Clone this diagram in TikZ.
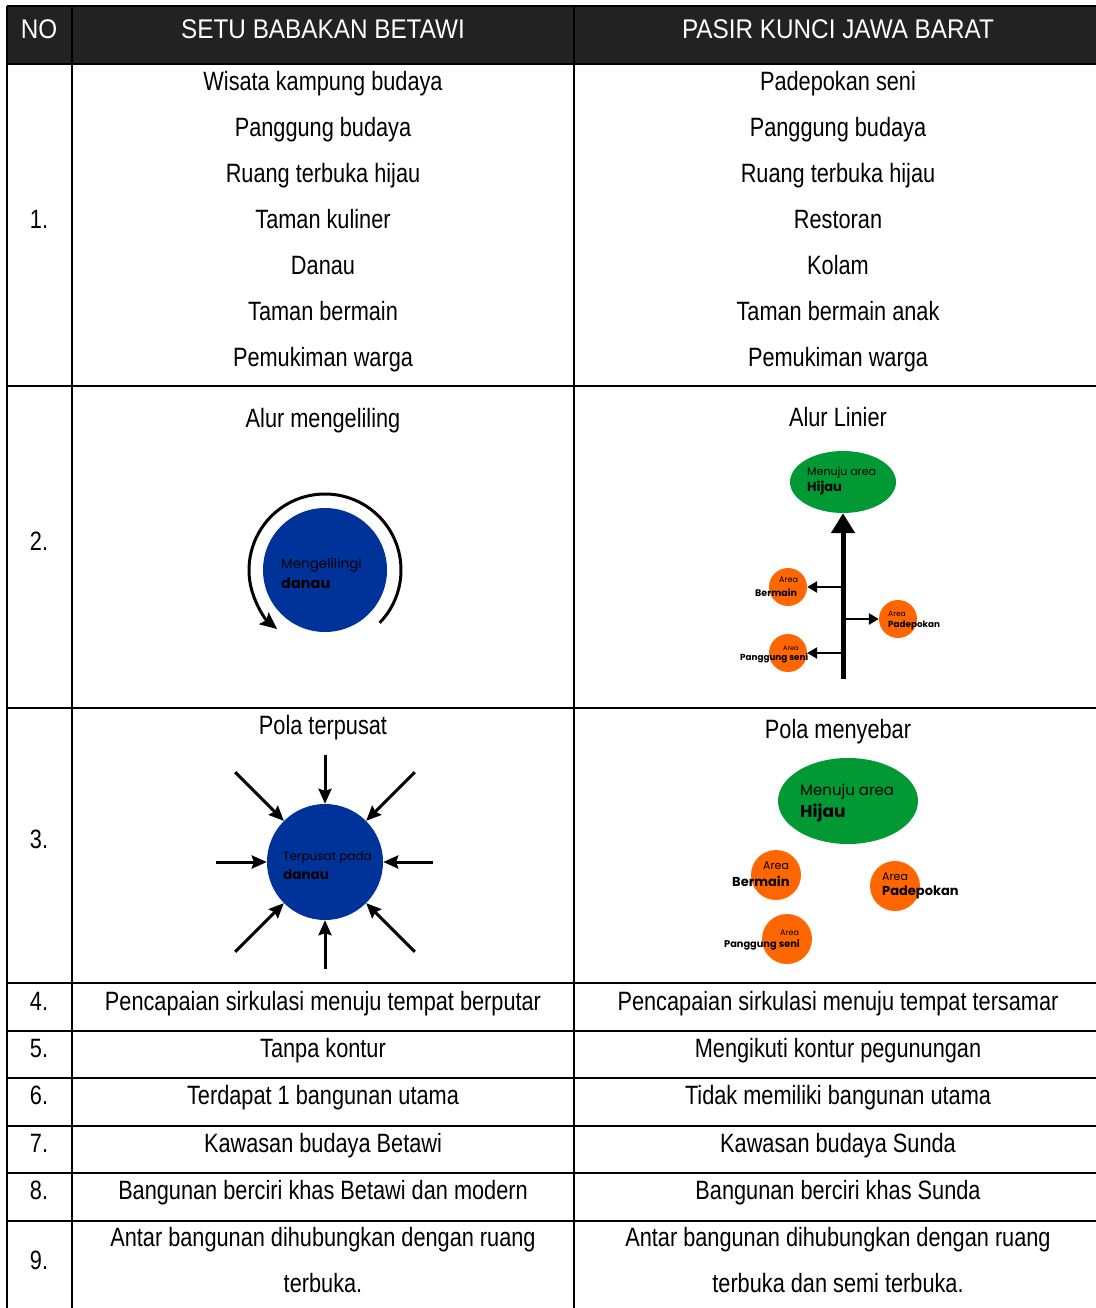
\documentclass[tikz,border=0pt]{standalone}
\usepackage{fontspec}
\setmainfont{Liberation Sans}[FakeStretch=0.82]
\newfontfamily\headfont{Liberation Sans}[FakeStretch=0.9]
\newfontfamily\labfont{Poppins}
\usetikzlibrary{arrows.meta,shapes.geometric}

\definecolor{headgray}{HTML}{222222}
\definecolor{lakeblue}{HTML}{003399}
\definecolor{parkgreen}{HTML}{009933}
\definecolor{spotorange}{HTML}{FF6600}

\tikzset{
  cell/.style={inner sep=0pt, font=\fontsize{26.5}{30}\selectfont, text height=19pt, text depth=0pt},
  head/.style={inner sep=0pt, text=white, font=\headfont\fontsize{27}{30}\selectfont, text height=19pt, text depth=0pt},
  rule/.style={line width=2.5pt},
  lake/.style={circle, fill=lakeblue, inner sep=0pt, minimum size=#1},
  park/.style={ellipse, fill=parkgreen, inner sep=0pt},
  spot/.style={circle, fill=spotorange, inner sep=0pt, minimum size=#1},
  lab/.style={anchor=west, inner sep=0pt, font=\labfont\fontsize{#1}{#1}\selectfont},
  flow/.style={line width=3pt, -{Stealth[length=15pt,width=13pt,inset=2pt]}},
  branch/.style={line width=2.7pt, -{Triangle[length=10pt,width=11pt]}}
}

\begin{document}
\begin{tikzpicture}[x=1pt,y=-1pt]
  \useasboundingbox (0,0) rectangle (1095,1308);

  % table
  \fill[headgray] (7,6) rectangle (1102,64);
  \draw[rule] (7,6) -- (1102,6);
  \foreach \y in {64,386,708,983,1031,1078,1126,1173,1221}
    \draw[rule] (7,\y) -- (1102,\y);
  \foreach \x in {7,72,574,1102}
    \draw[rule] (\x,6) -- (\x,1310);

  % header
  \node[head] (hno) at (39,29) {NO};
  \node[head] (hsetu) at (323,29) {SETU BABAKAN BETAWI};
  \node[head] (hpasir) at (838,29) {PASIR KUNCI JAWA BARAT};

  % numbers
  \foreach \n/\y in {1/219,2/541,3/839,4/1001,5/1048,6/1095,7/1143,8/1190,9/1260}
    \node[cell] (no\n) at (39,\y) {\n.};

  % row 1
  \foreach \t [count=\i] in {Wisata kampung budaya, Panggung budaya, Ruang terbuka hijau,
      Taman kuliner, Danau, Taman bermain, Pemukiman warga}
    \node[cell] (setu\i) at (323,35+46*\i) {\t};
  \foreach \t [count=\i] in {Padepokan seni, Panggung budaya, Ruang terbuka hijau,
      Restoran, Kolam, Taman bermain anak, Pemukiman warga}
    \node[cell] (pasir\i) at (838,35+46*\i) {\t};

  % row 2
  \node[cell] (alurA) at (323,418) {Alur mengeliling};
  \node[cell] (alurB) at (838,417) {Alur Linier};

  \node[lake=124pt] (lakeA) at (325,570) {};
  \node[lab=13.5] (lakeAt) at (281,565) {Mengelilingi};
  \node[lab=14.5] (lakeAb) at (281,583) {\bfseries danau};
  \draw[line width=3pt, -{Stealth[length=17pt,width=15pt,inset=3pt]}]
    ([shift={(44:76)}]lakeA.center) arc[start angle=44, end angle=-231, radius=76];

  \node[park, minimum width=106pt, minimum height=62pt] (hijauA) at (843,482) {};
  \node[lab=11] (hijauAt) at (807,473) {Menuju area};
  \node[lab=13] (hijauAb) at (807,488) {\bfseries Hijau};
  \node[spot=38pt] (bermainA) at (788,587) {};
  \node[spot=38pt] (padepokanA) at (898,619) {};
  \node[spot=38pt] (panggungA) at (788,653) {};
  \coordinate (lbot) at (843,679);
  \coordinate (lb1) at (843,587);
  \coordinate (lb2) at (843,619);
  \coordinate (lb3) at (843,653);
  \draw[line width=5pt, -{Triangle[length=20pt,width=23pt]}] (lbot) -- (hijauA);
  \draw[branch] (lb1) -- (bermainA);
  \draw[branch] (lb2) -- (padepokanA);
  \draw[branch] (lb3) -- (panggungA);
  \node[lab=8] (bermainAt) at (779,580) {Area};
  \node[lab=9.5] (bermainAb) at (755,593) {\bfseries Bermain};
  \node[lab=7.5] (padepokanAt) at (888,614) {Area};
  \node[lab=8.8] (padepokanAb) at (888,625) {\bfseries Padepokan};
  \node[lab=6.5] (panggungAt) at (783,648) {Area};
  \node[lab=8.8] (panggungAb) at (740,658) {\bfseries Panggung seni};

  % row 3
  \node[cell] (polaA) at (323,725) {Pola terpusat};
  \node[cell] (polaB) at (838,729) {Pola menyebar};

  \node[lake=116pt] (lakeB) at (325,862) {};
  \node[lab=12] (lakeBt) at (283,858) {Terpusat pada};
  \node[lab=13.5] (lakeBb) at (283,875) {\bfseries danau};
  \foreach \a/\r in {0/108,45/127,90/107,135/127,180/109,225/127,270/107,315/127} {
    \coordinate (in\a) at ([shift={(\a:\r)}]lakeB.center);
    \draw[flow] (in\a) -- (lakeB);
  }

  \node[park, minimum width=140pt, minimum height=86pt] (hijauB) at (848,801) {};
  \node[lab=15] (hijauBt) at (800,792) {Menuju area};
  \node[lab=17] (hijauBb) at (800,813) {\bfseries Hijau};
  \node[spot=50pt] (bermainB) at (776,875) {};
  \node[spot=50pt] (padepokanB) at (895,886) {};
  \node[spot=50pt] (panggungB) at (787,939) {};
  \node[lab=11] (bermainBt) at (763,866) {Area};
  \node[lab=13] (bermainBb) at (732,881) {\bfseries Bermain};
  \node[lab=11] (padepokanBt) at (882,877) {Area};
  \node[lab=13] (padepokanBb) at (882,892) {\bfseries Padepokan};
  \node[lab=8] (panggungBt) at (780,933) {Area};
  \node[lab=9.8] (panggungBb) at (724,945) {\bfseries Panggung seni};

  % rows 4-9
  \node[cell] (setu4) at (323,1001) {Pencapaian sirkulasi menuju tempat berputar};
  \node[cell] (pasir4) at (838,1001) {Pencapaian sirkulasi menuju tempat tersamar};
  \node[cell] (setu5) at (323,1048) {Tanpa kontur};
  \node[cell] (pasir5) at (838,1048) {Mengikuti kontur pegunungan};
  \node[cell] (setu6) at (323,1095) {Terdapat 1 bangunan utama};
  \node[cell] (pasir6) at (838,1095) {Tidak memiliki bangunan utama};
  \node[cell] (setu7) at (323,1143) {Kawasan budaya Betawi};
  \node[cell] (pasir7) at (838,1143) {Kawasan budaya Sunda};
  \node[cell] (setu8) at (323,1190) {Bangunan berciri khas Betawi dan modern};
  \node[cell] (pasir8) at (838,1190) {Bangunan berciri khas Sunda};
  \node[cell] (setu9a) at (323,1237) {Antar bangunan dihubungkan dengan ruang};
  \node[cell] (setu9b) at (323,1283) {terbuka.};
  \node[cell] (pasir9a) at (838,1237) {Antar bangunan dihubungkan dengan ruang};
  \node[cell] (pasir9b) at (838,1283) {terbuka dan semi terbuka.};
\end{tikzpicture}
\end{document}
